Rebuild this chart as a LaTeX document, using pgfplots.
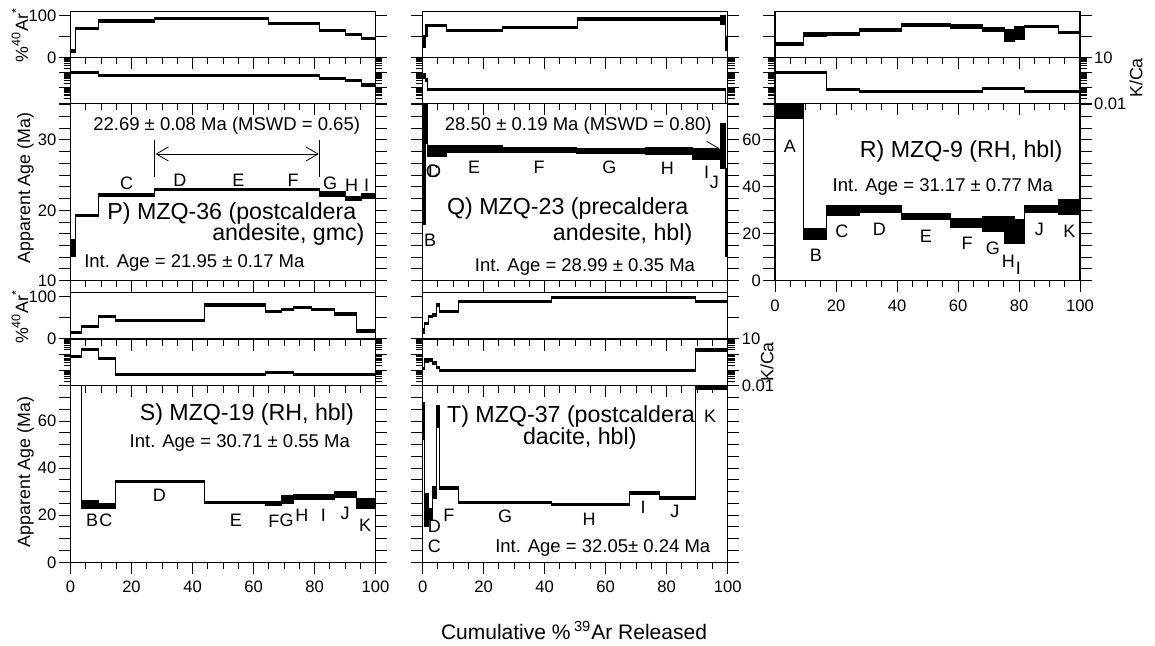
\documentclass[border=0pt]{standalone}
\usepackage{fontspec}
\setmainfont{Liberation Sans}
\usepackage{pgfplots}
\pgfplotsset{compat=1.18}
\usepackage{pgfplotstable}
\usepgfplotslibrary{fillbetween}
\usetikzlibrary{arrows.meta}

\newcommand\ftick{\fontsize{8.3}{9}\selectfont}
\newcommand\ftitle{\fontsize{11.6}{13}\selectfont}
\newcommand\fint{\fontsize{9.25}{11}\selectfont}
\newcommand\fstep{\fontsize{9}{10}\selectfont}
\newcommand\flab{\fontsize{8.9}{10}\selectfont}

% x = left edge of step (% 39Ar), v = value, e = half error (factor for K/Ca)
\pgfplotstableread{
x v e
0 14.6 1.2
1.8 19.2 0.15
9.3 22.2 0.18
27.7 22.9 0.15
44 22.9 0.15
64.9 22.9 0.15
81.6 22.3 0.4
90 21.65 0.25
95.5 22.0 0.35
100 22.0 0.35
}\Page
\pgfplotstableread{
x v e
0 14 3.5
1.8 69.4 2.5
9.3 86.8 2.5
27.7 93.3 2.5
64.9 81.3 2.5
81.6 63.7 2.5
90 54 2.5
95.5 46 2.5
100 46 2.5
}\Par
\pgfplotstableread{
x v e
0 1.0 1.16
9.3 0.63 1.16
81.6 0.43 1.2
90 0.30 1.2
95.5 0.155 1.25
100 0.155 1.25
}\Pkca

\pgfplotstableread{
x v e
0 27 9
0.8 33 3.5
1.5 28.4 0.8
4 28.4 0.8
7.9 28.75 0.5
26.2 28.6 0.35
50.5 28.45 0.35
72.9 28.4 0.5
88.5 27.9 0.7
97.5 29.1 3.2
99.4 19.7 6.3
100 19.7 6.3
}\Qage
\pgfplotstableread{
x v e
0 38 14
0.8 64 15
1.5 77 2.5
7.9 63.5 2.5
26.2 71 2.5
50.8 91.5 2.5
97.5 89 10
99.4 33 16
100 33 16
}\Qar
\pgfplotstableread{
x v e
0 0.6 1.4
0.8 0.35 1.25
1.5 0.081 1.16
97.5 0.075 1.16
99.4 0.005 1.2
100 0.005 1.2
}\Qkca

\pgfplotstableread{
x v e
0 72.2 3.2
9.3 20.0 2.3
17.0 29.9 2.3
27.6 30.6 1.65
41.5 27.2 1.3
57.5 24.5 1.8
68.1 24.1 3.2
75.2 21.6 5.6
78.5 21.0 5.1
81.7 30.6 1.65
92.8 31.2 3.2
100 31.2 3.2
}\Rage
\pgfplotstableread{
x v e
0 31.8 3
9.3 55 5
17 55.7 2.5
27.6 65.3 2.5
41.5 77.3 2.5
57.5 74 4
68.1 66.5 4
75.2 52 14
78.5 58 15
81.7 73.2 2.5
92.8 58.9 2.5
100 58.9 2.5
}\Rar
\pgfplotstableread{
x v e
0 1.05 1.16
17 0.085 1.16
27.6 0.063 1.16
68.1 0.089 1.16
81.7 0.063 1.16
100 0.063 1.16
}\Rkca

\pgfplotstableread{
x v e
0 120 2
3.7 24.5 1.6
9.3 24.0 1.1
14.6 34.4 0.45
43.9 25.5 0.5
63.8 25.0 1.0
69.2 26.5 1.7
73.0 27.9 1.1
79.1 27.9 1.1
86.7 28.9 1.35
93.8 24.9 2.0
100 24.9 2.0
}\Sage
\pgfplotstableread{
x v e
0 16 2.5
3.7 30 2.5
9.3 53 2.5
14.6 44 2.5
43.9 80.8 2.5
63.8 64.9 2.5
69.2 70.5 2.5
73.0 75.3 2.5
79.1 70.5 2.5
86.7 59.4 2.5
93.8 19 2.5
100 19 2.5
}\Sar
\pgfplotstableread{
x v e
0 0.73 1.16
3.7 2.2 1.16
9.3 0.57 1.16
14.6 0.049 1.16
63.8 0.072 1.16
73.0 0.049 1.16
100 0.049 1.16
}\Skca

\pgfplotstableread{
x v e
0 60 8
0.75 22.2 7.1
1.85 20.5 2.5
3.15 29.5 2.6
4.6 62 4.6
5.45 31.5 0.6
11.7 25.5 0.5
42.3 24.5 0.55
67.7 29.6 0.6
77.6 27.3 0.6
89.3 80 6.5
100 80 6.5
}\Tage
\pgfplotstableread{
x v e
0 19 6
0.75 37 3
1.85 53 3
3.15 57 3
4.6 80.8 3
5.45 64.9 2.5
11.7 88.5 2.5
42.3 98.5 2.5
89.3 88.5 2.5
100 88.5 2.5
}\Tar
\pgfplotstableread{
x v e
0 0.13 1.2
0.75 0.42 1.3
1.85 0.45 1.25
3.15 0.3 1.25
4.6 0.15 1.2
5.45 0.092 1.16
89.3 2.0 1.2
100 2.0 1.2
}\Tkca

% step spectrum drawn as error boxes
\newcommand\spec[2]{%
  \addplot[black, const plot mark left, line width=0.5pt, name path=#2u] table[x=x, y expr=\thisrow{v}+\thisrow{e}] {#1};
  \addplot[black, const plot mark left, line width=0.5pt, name path=#2l] table[x=x, y expr=\thisrow{v}-\thisrow{e}] {#1};
  \addplot[black] fill between[of=#2u and #2l];
}
\newcommand\speclog[2]{%
  \addplot[black, const plot mark left, line width=0.5pt, name path=#2u] table[x=x, y expr=\thisrow{v}*\thisrow{e}] {#1};
  \addplot[black, const plot mark left, line width=0.5pt, name path=#2l] table[x=x, y expr=\thisrow{v}/\thisrow{e}] {#1};
  \addplot[black] fill between[of=#2u and #2l];
}

\pgfplotsset{
  base/.style={scale only axis, width=152.5pt, xmin=0, xmax=100, anchor=south west,
    axis line style={line width=0.65pt}, tick style={black, line width=0.5pt},
    tick align=outside, xtick pos=left, ytick pos=both,
    xtick={0,20,...,100}, minor x tick num=3, xticklabels={},
    major tick length=5.85pt, minor tick length=3.4pt,
    /pgf/number format/assume math mode=true, tick label style={font=\ftick},
    yticklabel style={inner xsep=1pt}},
  arp/.style={base, ymin=0, ymax=110, ytick={0,50,100}, yticklabels={}},
  kp/.style={base, ymin=0.01, ymax=10, ytick={0.01,0.1,1,10},
    minor ytick={0.02,0.03,0.04,0.05,0.06,0.07,0.08,0.09,0.2,0.3,0.4,0.5,0.6,0.7,0.8,0.9,2,3,4,5,6,7,8,9},
    yticklabels={}},
  agelo/.style={base, ymin=10, ymax=35.2,
    ytick={10,11.667,13.333,15,16.667,18.333,20,21.667,23.333,25,26.667,28.333,30,31.667,33.333,35},
    yticklabels={}},
  agehi/.style={base, ymin=0, ytick={0,5,...,75}, yticklabels={}},
}
\newcommand\stp[3]{\node[font=\fstep] at (axis cs:#1,#2) {#3};}

\begin{document}
\begin{tikzpicture}

% ---------------- P ----------------
\begin{axis}[arp, at={(35.25pt,-28.65pt)}, height=23pt, yticklabels={0,,100}]
\spec{\Par}{pa}
\end{axis}
\begin{semilogyaxis}[kp, at={(35.25pt,-51.65pt)}, height=23pt]
\speclog{\Pkca}{pk}
\end{semilogyaxis}
\begin{axis}[agelo, at={(35.25pt,-140.35pt)}, height=88.7pt, yticklabels={10,,,,,,20,,,,,,30,,,}]
\spec{\Page}{pg}
\addplot[black, line width=0.5pt] coordinates {(27.7,30) (27.7,24.8)};
\addplot[black, line width=0.5pt] coordinates {(81.6,30) (81.6,24.8)};
\addplot[black, line width=0.4pt, {Straight Barb[length=6pt,width=7pt]}-{Straight Barb[length=6pt,width=7pt]}] coordinates {(27.9,28.0) (81.4,28.0)};
\node[font=\fint] at (axis cs:51.2,32.0) {22.69 ± 0.08 Ma (MSWD = 0.65)};
\stp{18.4}{23.8}{C}\stp{35.9}{24.3}{D}\stp{55}{24.3}{E}\stp{73}{24.3}{F}
\stp{85.1}{23.8}{G}\stp{92.2}{23.6}{H}\stp{97.1}{23.6}{I}
\node[anchor=east, font=\ftitle] at (axis cs:96,19.5) {P) MZQ-36 (postcaldera};
\node[anchor=east, font=\ftitle] at (axis cs:98.7,16.5) {andesite, gmc)};
\node[anchor=west, font=\fint] at (axis cs:2.2,12.5) {Int. Age = 21.95 ± 0.17 Ma};
\end{axis}

% ---------------- Q ----------------
\begin{axis}[arp, at={(211.35pt,-28.65pt)}, height=23pt]
\spec{\Qar}{qa}
\end{axis}
\begin{semilogyaxis}[kp, at={(211.35pt,-51.65pt)}, height=23pt]
\speclog{\Qkca}{qk}
\end{semilogyaxis}
\begin{axis}[agelo, at={(211.35pt,-140.35pt)}, height=88.7pt]
\addplot[black, line width=0.4pt, -{Straight Barb[length=6pt,width=7pt]}] coordinates {(1.5,28.8) (97.3,28.8)};
\spec{\Qage}{qg}
\node[font=\fint] at (axis cs:51,32.0) {28.50 ± 0.19 Ma (MSWD = 0.80)};
\stp{3.2}{25.6}{C}\stp{3.9}{25.6}{D}\stp{16.9}{26.1}{E}\stp{38.2}{26.1}{F}
\stp{61.2}{26.1}{G}\stp{80.2}{25.9}{H}\stp{93.1}{25.4}{I}\stp{95.6}{24.0}{J}
\stp{2.4}{15.75}{B}
\node[anchor=west, font=\ftitle] at (axis cs:5.7,20.2) {Q) MZQ-23 (precaldera};
\node[anchor=east, font=\ftitle] at (axis cs:90.7,16.5) {andesite, hbl)};
\node[font=\fint] at (axis cs:53.2,12.0) {Int. Age = 28.99 ± 0.35 Ma};
\end{axis}

% ---------------- R ----------------
\begin{axis}[arp, at={(387.5pt,-28.65pt)}, height=23pt]
\spec{\Rar}{ra}
\end{axis}
\begin{semilogyaxis}[kp, at={(387.5pt,-51.65pt)}, height=23pt, yticklabel pos=right, yticklabels={0.01,,,10}]
\speclog{\Rkca}{rk}
\end{semilogyaxis}
\begin{axis}[agehi, at={(387.5pt,-140.35pt)}, height=88.7pt, ymax=75.6,
  yticklabels={0,,,,20,,,,40,,,,60,,,}, xticklabels={0,20,40,60,80,100}]
\spec{\Rage}{rg}
\stp{4.9}{57.1}{A}\stp{13.4}{11.0}{B}\stp{21.9}{20.9}{C}\stp{34.2}{21.9}{D}
\stp{49.5}{19.1}{E}\stp{63}{15.9}{F}\stp{71.4}{13.8}{G}\stp{76.5}{8.1}{H}
\stp{79.8}{5.3}{I}\stp{86.7}{21.9}{J}\stp{96.5}{20.9}{K}
\node[anchor=east, font=\ftitle] at (axis cs:96.5,55.0) {R) MZQ-9 (RH, hbl)};
\node[font=\fint] at (axis cs:55,40.1) {Int. Age = 31.17 ± 0.77 Ma};
\end{axis}

% ---------------- S ----------------
\begin{axis}[arp, at={(35.25pt,-169.5pt)}, height=23.15pt, yticklabels={0,,100}]
\spec{\Sar}{sa}
\end{axis}
\begin{semilogyaxis}[kp, at={(35.25pt,-192.85pt)}, height=23.35pt]
\speclog{\Skca}{sk}
\end{semilogyaxis}
\begin{axis}[agehi, at={(35.25pt,-281.15pt)}, height=88.3pt, ymax=75,
  yticklabels={0,,,,20,,,,40,,,,60,,,}, xticklabels={0,20,40,60,80,100}]
\spec{\Sage}{sg}
\node[font=\ftitle] at (axis cs:57.8,62.8) {S) MZQ-19 (RH, hbl)};
\node[font=\fint] at (axis cs:55.5,50.5) {Int. Age = 30.71 ± 0.55 Ma};
\stp{7.1}{18.0}{B}\stp{11.6}{18.0}{C}\stp{29.1}{28.6}{D}\stp{54.2}{18.0}{E}
\stp{66.7}{17.3}{F}\stp{70.9}{18.0}{G}\stp{75.9}{20.1}{H}\stp{82.9}{20.1}{I}
\stp{90}{20.8}{J}\stp{96.6}{15.8}{K}
\end{axis}

% ---------------- T ----------------
\begin{axis}[arp, at={(211.35pt,-169.5pt)}, height=23.15pt]
\spec{\Tar}{ta}
\end{axis}
\begin{semilogyaxis}[kp, at={(211.35pt,-192.85pt)}, height=23.35pt, yticklabel pos=right, yticklabels={0.01,,,10}]
\speclog{\Tkca}{tk}
\end{semilogyaxis}
\begin{axis}[agehi, at={(211.35pt,-281.15pt)}, height=88.3pt, ymax=75,
  xticklabels={0,20,40,60,80,100}]
\spec{\Tage}{tg}
\node[anchor=west, font=\ftitle] at (axis cs:5.7,61.8) {T) MZQ-37 (postcaldera};
\node[font=\ftitle] at (axis cs:51.5,52.6) {dacite, hbl)};
\stp{94.2}{61.8}{K}\stp{3.8}{6.6}{C}\stp{3.8}{15.4}{D}\stp{8.6}{20.1}{F}
\stp{27}{19.4}{G}\stp{54.6}{18.3}{H}\stp{72.3}{23.4}{I}\stp{82.7}{21.5}{J}
\node[anchor=east, font=\fint] at (axis cs:96.6,5.9) {Int. Age = 32.05± 0.24 Ma};
\end{axis}

% axis titles
\node[rotate=90, font=\flab] at (10pt,-17.5pt) {\%\textsuperscript{40}Ar\textsuperscript{*}};
\node[rotate=90, font=\flab] at (10pt,-158.35pt) {\%\textsuperscript{40}Ar\textsuperscript{*}};
\node[rotate=90, font=\flab] at (12.75pt,-94pt) {Apparent Age (Ma)};
\node[rotate=90, font=\flab] at (12.75pt,-236pt) {Apparent Age (Ma)};
\node[rotate=90, font=\flab] at (568pt,-39pt) {K/Ca};
\node[rotate=90, font=\flab] at (383.5pt,-181pt) {K/Ca};
\node[font=\fontsize{10.5}{12}\selectfont] at (287pt,-315.35pt) {Cumulative \%\,\textsuperscript{39}Ar Released};

\pgfresetboundingbox
\useasboundingbox (0,0) rectangle (577.5pt,-323pt);
\end{tikzpicture}
\end{document}
